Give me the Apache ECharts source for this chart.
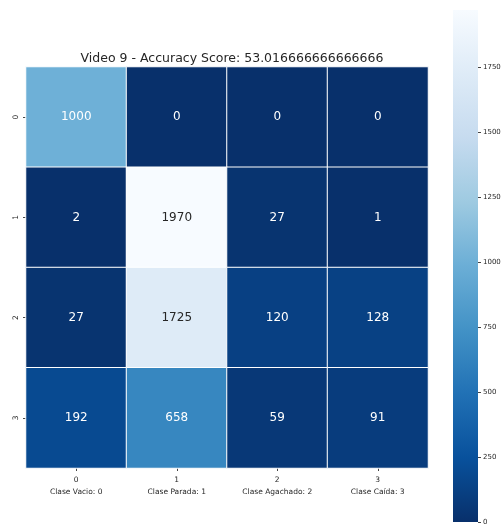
<!DOCTYPE html>
<html>
<head>
<meta charset="utf-8">
<script src="https://cdn.jsdelivr.net/npm/echarts@6/dist/echarts.min.js"></script>
<style>
  html, body { margin: 0; padding: 0; background: #fff; }
  #chart { width: 504px; height: 527px; }
</style>
</head>
<body>
<div id="chart"></div>
<script>
// Confusion matrix: rows = true class, columns = predicted class
const titleText = 'Video 9 - Accuracy Score: 53.016666666666666';
const predLabels = ['0', '1', '2', '3'];
const predNames = ['Clase Vacio: 0', 'Clase Parada: 1', 'Clase Agachado: 2', 'Clase Caída: 3'];
const trueLabels = ['0', '1', '2', '3'];
const row0 = [1000, 0, 0, 0];
const row1 = [2, 1970, 27, 1];
const row2 = [27, 1725, 120, 128];
const row3 = [192, 658, 59, 91];
const colorbarTicks = [0, 250, 500, 750, 1000, 1250, 1500, 1750];

// matplotlib "Blues" colormap stops, low to high
const blues = ['#f7fbff', '#deebf7', '#c6dbef', '#9ecae1', '#6baed6', '#4292c6', '#2171b5', '#08519c', '#08306b'];
const ramp = blues.slice().reverse(); // dark for small counts, light for large

const rows = [row0, row1, row2, row3];
const vmin = 0;
const vmax = Math.max(...rows.flat());

const cells = [];
rows.forEach((r, yi) => r.forEach((v, xi) => cells.push([xi, yi, v])));

// Dark annotation text on light cells, white on dark ones
function isLight(v) {
  return (v - vmin) / (vmax - vmin) > 0.75;
}

const chart = echarts.init(document.getElementById('chart'), null, { renderer: 'canvas' });
chart.setOption({
  animation: false,
  backgroundColor: '#ffffff',
  textStyle: { fontFamily: 'DejaVu Sans' },
  title: {
    text: titleText,
    left: 227, top: 47, textAlign: 'center',
    textStyle: { fontFamily: 'DejaVu Sans', fontSize: 12.5, fontWeight: 'normal', color: '#262626' }
  },
  grid: [
    { left: 26, top: 67, width: 402, height: 401 },
    { left: 453, top: 10, width: 25, height: 512 }
  ],
  xAxis: [
    {
      gridIndex: 0, type: 'category', data: predLabels, position: 'bottom',
      axisLine: { show: false },
      axisTick: { show: true, alignWithLabel: true, length: 3, lineStyle: { color: '#444' } },
      axisLabel: {
        margin: 6, fontSize: 7.5, color: '#262626', lineHeight: 12,
        formatter: (v, i) => v + '\n' + predNames[i]
      },
      splitLine: { show: false }
    },
    {
      gridIndex: 1, type: 'category', data: [''],
      show: false
    }
  ],
  yAxis: [
    {
      gridIndex: 0, type: 'category', data: trueLabels, inverse: true,
      axisLine: { show: false },
      axisTick: { show: true, alignWithLabel: true, length: 3, lineStyle: { color: '#444' } },
      axisLabel: { rotate: 90, margin: 6, fontSize: 7.5, color: '#262626' },
      splitLine: { show: false }
    },
    {
      gridIndex: 1, type: 'value', min: vmin, max: vmax, position: 'right',
      axisLine: { show: false },
      axisTick: { show: true, length: 3, customValues: colorbarTicks, lineStyle: { color: '#444' } },
      axisLabel: {
        fontSize: 7, color: '#262626', margin: 5, customValues: colorbarTicks,
        formatter: v => String(v)
      },
      splitLine: { show: false }
    }
  ],
  visualMap: {
    show: false, type: 'continuous', seriesIndex: 0,
    min: vmin, max: vmax, inRange: { color: ramp }
  },
  series: [
    {
      type: 'heatmap', xAxisIndex: 0, yAxisIndex: 0, data: cells,
      itemStyle: { borderColor: '#ffffff', borderWidth: 1 },
      label: {
        show: true, fontSize: 12, fontFamily: 'DejaVu Sans',
        formatter: p => (isLight(p.value[2]) ? '{d|' : '{w|') + p.value[2] + '}',
        rich: {
          d: { color: '#262626', fontSize: 12, fontFamily: 'DejaVu Sans' },
          w: { color: '#ffffff', fontSize: 12, fontFamily: 'DejaVu Sans' }
        }
      },
      emphasis: { disabled: true }
    },
    {
      // colour bar
      type: 'bar', xAxisIndex: 1, yAxisIndex: 1, data: [vmax],
      barWidth: '100%', silent: true,
      itemStyle: {
        color: new echarts.graphic.LinearGradient(0, 0, 0, 1,
          blues.map((c, i) => ({ offset: i / (blues.length - 1), color: c })))
      }
    }
  ]
});
</script>
</body>
</html>
